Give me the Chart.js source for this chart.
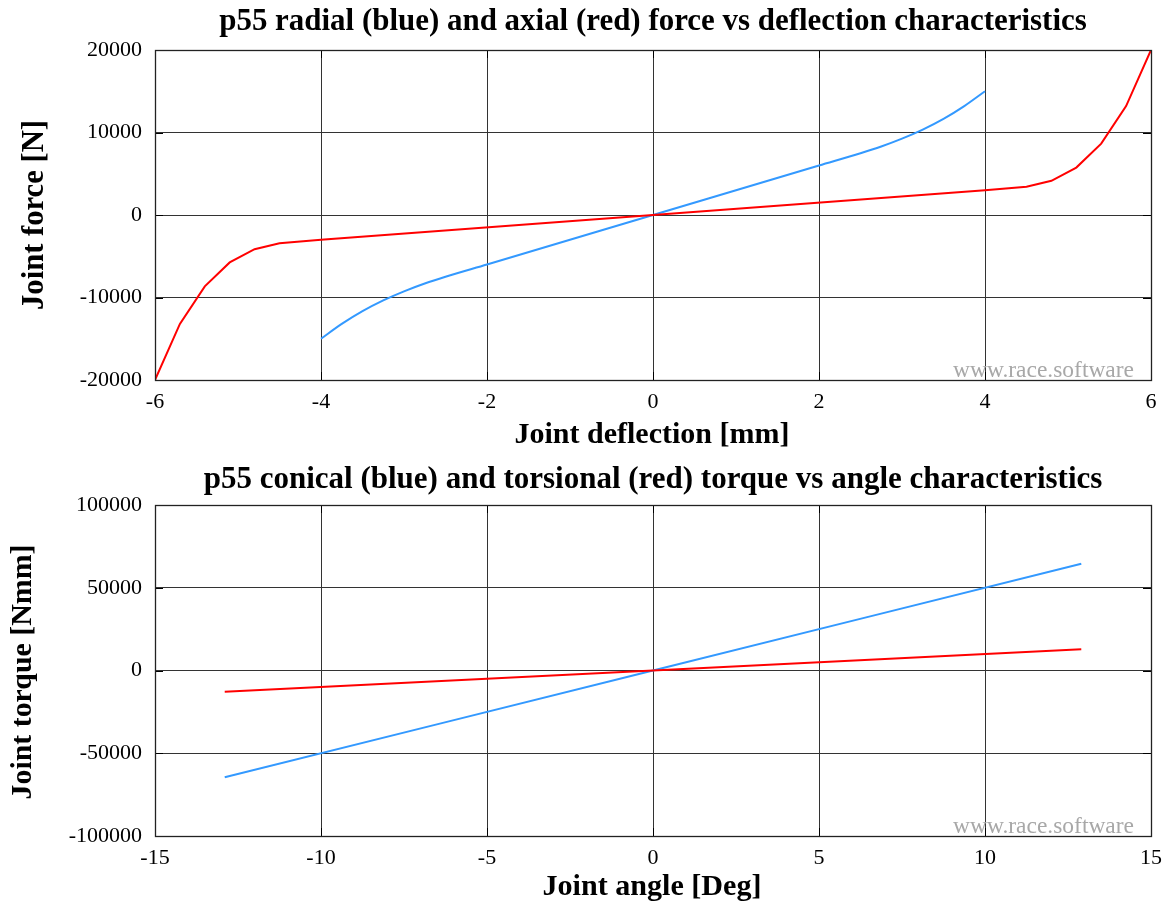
<!DOCTYPE html>
<html>
<head>
<meta charset="utf-8">
<script src="https://cdn.jsdelivr.net/npm/chart.js@4/dist/chart.umd.min.js"></script>
<style>
  html, body { margin: 0; padding: 0; background: #fff; }
  body { width: 1165px; height: 903px; position: relative; overflow: hidden; }
  .wrap { position: absolute; left: 0; width: 1165px; }
</style>
</head>
<body>
<div class="wrap" style="top:0;height:452px"><canvas id="c1" width="1165" height="452"></canvas></div>
<div class="wrap" style="top:452px;height:451px"><canvas id="c2" width="1165" height="451"></canvas></div>
<script>
// ---- Data (top: force vs deflection) ----
const axialX  = [-6, -5.7, -5.4, -5.1, -4.8, -4.5, -4, 0, 4, 4.5, 4.8, 5.1, 5.4, 5.7, 6];
const axialY  = [-20000, -13200, -8650, -5750, -4150, -3420, -3000, 0, 3000, 3420, 4150, 5750, 8650, 13200, 20000];
const radialX = [-4, -3.75, -3.5, -3.25, -3, -2.75, -2.5, -2, 0, 2, 2.5, 2.75, 3, 3.25, 3.5, 3.75, 4];
const radialY = [-15000, -13200, -11650, -10350, -9250, -8300, -7480, -6000, 0, 6000, 7480, 8300, 9250, 10350, 11650, 13200, 15000];
// ---- Data (bottom: torque vs angle) ----
const angleX     = [-12.9, 0, 12.9];
const conicalY   = [-64500, 0, 64500];
const torsionalY = [-12900, 0, 12900];
// ---- Ticks / labels ----
const topXTicks = [-6, -4, -2, 0, 2, 4, 6];
const topYTicks = [-20000, -10000, 0, 10000, 20000];
const botXTicks = [-15, -10, -5, 0, 5, 10, 15];
const botYTicks = [-100000, -50000, 0, 50000, 100000];
const titles = {
  top: "p55 radial (blue) and axial (red) force vs deflection characteristics",
  topX: "Joint deflection [mm]",
  topY: "Joint force [N]",
  bot: "p55 conical (blue) and torsional (red) torque vs angle characteristics",
  botX: "Joint angle [Deg]",
  botY: "Joint torque [Nmm]",
  mark: "www.race.software"
};

const BLUE = '#3399ff', RED = '#ff0000';
const SERIF = '"Liberation Serif", "DejaVu Serif", serif';

function pts(xs, ys) { return xs.map((x, i) => ({ x: x, y: ys[i] })); }

function fitText(ctx, text, x, y, targetW, bold, rotate, color, align) {
  ctx.save();
  let size = 20;
  ctx.font = (bold ? 'bold ' : '') + size + 'px ' + SERIF;
  const w = ctx.measureText(text).width;
  size = size * targetW / w;
  ctx.font = (bold ? 'bold ' : '') + size.toFixed(2) + 'px ' + SERIF;
  ctx.fillStyle = color || '#000';
  ctx.textAlign = align || 'center';
  ctx.textBaseline = 'middle';
  ctx.translate(x, y);
  if (rotate) ctx.rotate(-Math.PI / 2);
  ctx.fillText(text, 0, 0);
  ctx.restore();
}

function framePlugin(cfg) {
  return {
    id: 'frame_' + cfg.id,
    afterDatasetsDraw(chart) {
      const ctx = chart.ctx, a = chart.chartArea;
      const xs = chart.scales.x, ys = chart.scales.y;
      ctx.save();
      ctx.strokeStyle = '#000';
      ctx.lineWidth = 1;
      // inward ticks
      ctx.beginPath();
      cfg.xTicks.forEach(v => {
        const px = Math.round(xs.getPixelForValue(v)) + 0.5;
        ctx.moveTo(px, a.bottom); ctx.lineTo(px, a.bottom - 8);
        ctx.moveTo(px, a.top); ctx.lineTo(px, a.top + 8);
      });
      cfg.yTicks.forEach(v => {
        const py = Math.round(ys.getPixelForValue(v)) + 0.5;
        ctx.moveTo(a.left, py); ctx.lineTo(a.left + 8, py);
        ctx.moveTo(a.right, py); ctx.lineTo(a.right - 8, py);
      });
      ctx.stroke();
      ctx.lineWidth = 1.3;
      ctx.strokeStyle = '#222';
      ctx.strokeRect(Math.round(a.left) + 0.5, Math.round(a.top) + 0.5, Math.round(a.right - a.left), Math.round(a.bottom - a.top));
      ctx.restore();
      // watermark
      fitText(ctx, titles.mark, a.right - 17, a.bottom - 9, 181, false, false, '#a8a8a8', 'right');
      // texts
      fitText(ctx, cfg.title, cfg.titlePos[0], cfg.titlePos[1], cfg.titlePos[2], true, false);
      fitText(ctx, cfg.xTitle, cfg.xTitlePos[0], cfg.xTitlePos[1], cfg.xTitlePos[2], true, false);
      fitText(ctx, cfg.yTitle, cfg.yTitlePos[0], cfg.yTitlePos[1], cfg.yTitlePos[2], true, true);
    }
  };
}

function makeChart(canvasId, cfg) {
  return new Chart(document.getElementById(canvasId), {
    type: 'scatter',
    data: {
      datasets: [
        { data: pts(cfg.redX, cfg.redY), borderColor: RED, backgroundColor: RED, showLine: true, pointRadius: 0, borderWidth: 2, tension: 0 },
        { data: pts(cfg.blueX, cfg.blueY), borderColor: BLUE, backgroundColor: BLUE, showLine: true, pointRadius: 0, borderWidth: 2, cubicInterpolationMode: 'monotone' }
      ]
    },
    options: {
      responsive: false,
      animation: false,
      devicePixelRatio: 1,
      layout: { padding: { top: cfg.padTop, right: 14, left: 0, bottom: 0 } },
      plugins: { legend: { display: false }, tooltip: { enabled: false }, title: { display: false } },
      scales: {
        x: {
          type: 'linear', min: cfg.xMin, max: cfg.xMax,
          afterBuildTicks: s => { s.ticks = cfg.xTicks.map(v => ({ value: v })); },
          afterFit: s => { s.height = cfg.xAxisH; s.paddingLeft = 0; s.paddingRight = 0; },
          grid: { color: '#333', lineWidth: 1, drawTicks: false },
          border: { display: false },
          ticks: { color: '#000', padding: 9, font: { family: SERIF, size: 22 }, callback: v => String(v), maxRotation: 0 }
        },
        y: {
          type: 'linear', min: cfg.yMin, max: cfg.yMax,
          afterBuildTicks: s => { s.ticks = cfg.yTicks.map(v => ({ value: v })); },
          afterFit: s => { s.width = 155; s.paddingTop = 0; s.paddingBottom = 0; },
          grid: { color: '#333', lineWidth: 1, drawTicks: false },
          border: { display: false },
          ticks: { color: '#000', padding: 13, font: { family: SERIF, size: 22 }, callback: v => String(v) }
        }
      }
    },
    plugins: [framePlugin(cfg)]
  });
}

makeChart('c1', {
  id: 'top', redX: axialX, redY: axialY, blueX: radialX, blueY: radialY,
  xMin: -6, xMax: 6, yMin: -20000, yMax: 20000, xTicks: topXTicks, yTicks: topYTicks,
  padTop: 50, xAxisH: 452 - 380,
  title: titles.top, titlePos: [653, 22, 868],
  xTitle: titles.topX, xTitlePos: [652, 435, 275],
  yTitle: titles.topY, yTitlePos: [35, 215, 190]
});

makeChart('c2', {
  id: 'bot', redX: angleX, redY: torsionalY, blueX: angleX, blueY: conicalY,
  xMin: -15, xMax: 15, yMin: -100000, yMax: 100000, xTicks: botXTicks, yTicks: botYTicks,
  padTop: 53, xAxisH: 451 - 384,
  title: titles.bot, titlePos: [653, 480 - 452, 899],
  xTitle: titles.botX, xTitlePos: [652, 887 - 452, 219],
  yTitle: titles.botY, yTitlePos: [23, 672 - 452, 255]
});
</script>
</body>
</html>
